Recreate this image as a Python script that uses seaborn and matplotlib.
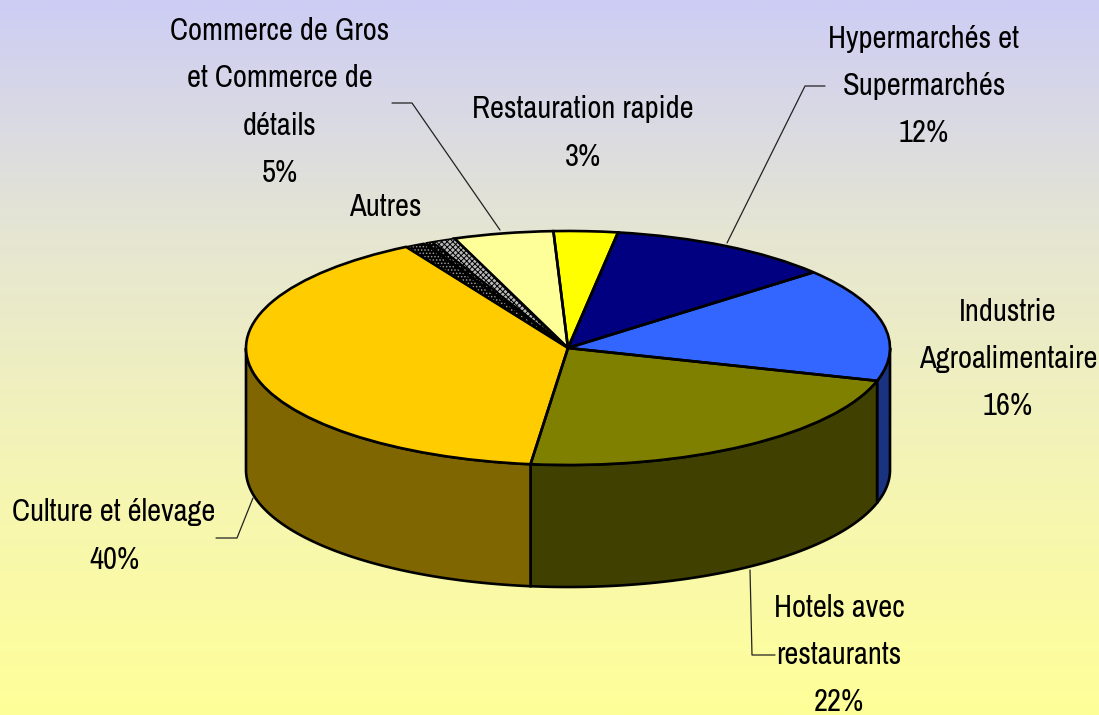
import numpy as np
import seaborn as sns
from matplotlib import pyplot as plt
from matplotlib.patches import Polygon

sns.set_theme(style='white')
plt.rcParams['font.family'] = ['Archivo Narrow', 'Roboto Condensed', 'Liberation Sans', 'DejaVu Sans']
plt.rcParams['hatch.linewidth'] = 0.7

W, H = 1099, 715

# shares, clockwise from the top of the pie
sectors = ['Restauration rapide', 'Hypermarchés et Supermarchés', 'Industrie Agroalimentaire',
           'Hotels avec restaurants', 'Culture et élevage', 'Autres a', 'Autres b', 'Autres c',
           'Autres d', 'Commerce de Gros et Commerce de détails']
shares = [3.2, 11.3, 15.7, 22.3, 39.7, 1.0, 0.1, 0.35, 1.2, 5.0]
top_colors = ['#ffff00', '#000080', '#3366ff', '#808000', '#ffcc00', '#000000', '#ffffff',
              '#000000', '#b8b8b8', '#ffff99']
side_colors = ['#808000', '#000040', '#1a3380', '#404000', '#806600', '#000000', '#808080',
               '#000000', '#5c5c5c', '#80804d']
hatches = [None, None, None, None, None, '.....', None, '.....', 'xxxxxx', None]
hatch_colors = ['none', 'none', 'none', 'none', 'none', '#9a9a9a', 'none', '#9a9a9a', 'black', 'none']

labels = ['Restauration rapide\n3%', 'Hypermarchés et\nSupermarchés\n12%', 'Industrie\nAgroalimentaire\n16%',
          'Hotels avec\nrestaurants\n22%', 'Culture et élevage\n40%', 'Autres',
          'Commerce de Gros\net Commerce de\ndétails\n5%']
label_pos = [(583, 133), (924, 86), (1008, 359), (839, 655), (114, 536), (385, 207), (280, 102)]

leaders = [[(392, 103), (412, 103), (500, 230)],
           [(825, 86), (805, 86), (727, 243)],
           [(216, 538), (237, 538), (253, 498)],
           [(775, 655), (752, 655), (750, 570)]]

# pie geometry in pixels
cx, cy, rx, ry, depth = 568, 348, 322, 117, 122
start = 92.6

fig = plt.figure(figsize=(W / 100, H / 100), dpi=100)

# background gradient
bg = fig.add_axes([0, 0, 1, 1], zorder=0)
cmap = sns.blend_palette(['#cdcdf5', '#e6e6d2', '#f5f5b4', '#ffff99'], as_cmap=True)
bg.imshow(np.linspace(0, 1, 256).reshape(-1, 1), cmap=cmap, aspect='auto')
bg.axis('off')

ax = fig.add_axes([0, 0, 1, 1], zorder=1)
ax.patch.set_visible(False)

# side walls, only the front half of the rim is seen
values = np.array(shares)
edges = start - np.concatenate([[0], np.cumsum(values)]) / values.sum() * 360
for a, b, c in zip(edges[:-1], edges[1:], side_colors):
    a, b = a % 360, b % 360
    if b > a:
        b -= 360
    hi, lo = min(a, 360), max(b, 180)
    # slices crossing 0 deg have their seen part on the low side
    if a < 180 and b < 0:
        hi, lo = 360, b + 360
    if hi <= lo:
        continue
    t = np.radians(np.linspace(hi, lo, 80))
    x, y = np.cos(t), np.sin(t)
    top = np.column_stack([x, y])
    bottom = np.column_stack([x, y - depth / ry])[::-1]
    ax.add_patch(Polygon(np.vstack([top, bottom]), closed=True, facecolor=c, edgecolor='black', linewidth=1.9))

# top face: fills with hatches, then the black outlines
fills, _ = ax.pie(values, colors=top_colors, startangle=start, counterclock=False, radius=1,
                  wedgeprops={'linewidth': 0})
for w, h, hc in zip(fills, hatches, hatch_colors):
    if h:
        w.set_hatch(h)
        w.set_edgecolor(hc)
lines, _ = ax.pie(values, colors=['none'] * len(values), startangle=start, counterclock=False, radius=1,
                  wedgeprops={'linewidth': 1.9, 'edgecolor': 'black', 'facecolor': 'none'})
for i in (5, 7, 8):
    lines[i].set_linewidth(1.2)
lines[6].set_linewidth(0.3)

ax.set_aspect('auto')
ax.set_xlim(-cx / rx, (W - cx) / rx)
ax.set_ylim((cy - H) / ry, cy / ry)
ax.axis('off')

over = fig.add_axes([0, 0, 1, 1], zorder=2)
over.patch.set_visible(False)
over.set_xlim(0, W)
over.set_ylim(H, 0)
over.axis('off')
for pts in leaders:
    over.plot([p[0] for p in pts], [p[1] for p in pts], color='#222222', lw=0.9)
for txt, (x, y) in zip(labels, label_pos):
    over.text(x, y, txt, ha='center', va='center', fontsize=22, color='black', linespacing=1.83)

fig.savefig('out.png', dpi=100)
